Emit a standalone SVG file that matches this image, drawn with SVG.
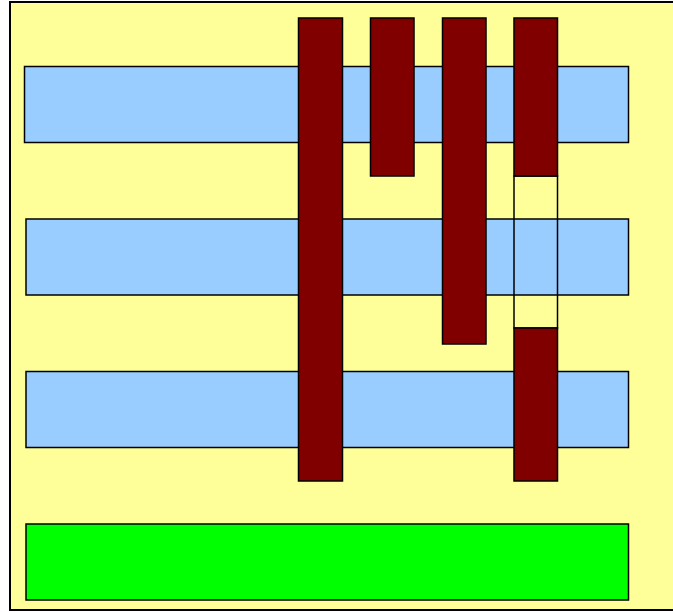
<svg xmlns="http://www.w3.org/2000/svg" width="673" height="612" viewBox="0 0 673 612">
<style>
.frame{fill:#FFFF99;stroke:#000;stroke-width:2}
.lane{fill:#99CCFF;stroke:#000;stroke-width:1.5}
.base{fill:#00FF00;stroke:#000;stroke-width:1.5}
.bar{fill:#800000;stroke:#000;stroke-width:1.5}
.gap{fill:none;stroke:#000;stroke-width:1.5}
</style>
<rect width="673" height="612" fill="#fff"/>
<g id="frame"><rect class="frame" x="10" y="2" width="680" height="608"/></g>
<g id="lane1"><rect class="lane" x="24.5" y="66.5" width="604" height="76"/></g>
<g id="lane2"><rect class="lane" x="26" y="219" width="602.5" height="76"/></g>
<g id="lane3"><rect class="lane" x="26" y="371.5" width="602.5" height="76"/></g>
<g id="base"><rect class="base" x="26" y="524" width="602.5" height="76"/></g>
<g id="bar1"><rect class="bar" x="298.5" y="18" width="44" height="463"/></g>
<g id="bar2"><rect class="bar" x="370.5" y="18" width="43.5" height="158"/></g>
<g id="bar3"><rect class="bar" x="442.5" y="18" width="43.5" height="326"/></g>
<g id="bar4">
<rect class="bar" x="514" y="18" width="43.5" height="158"/>
<rect class="gap" x="514" y="176" width="43.5" height="152"/>
<rect class="bar" x="514" y="328" width="43.5" height="153"/>
</g>
</svg>
